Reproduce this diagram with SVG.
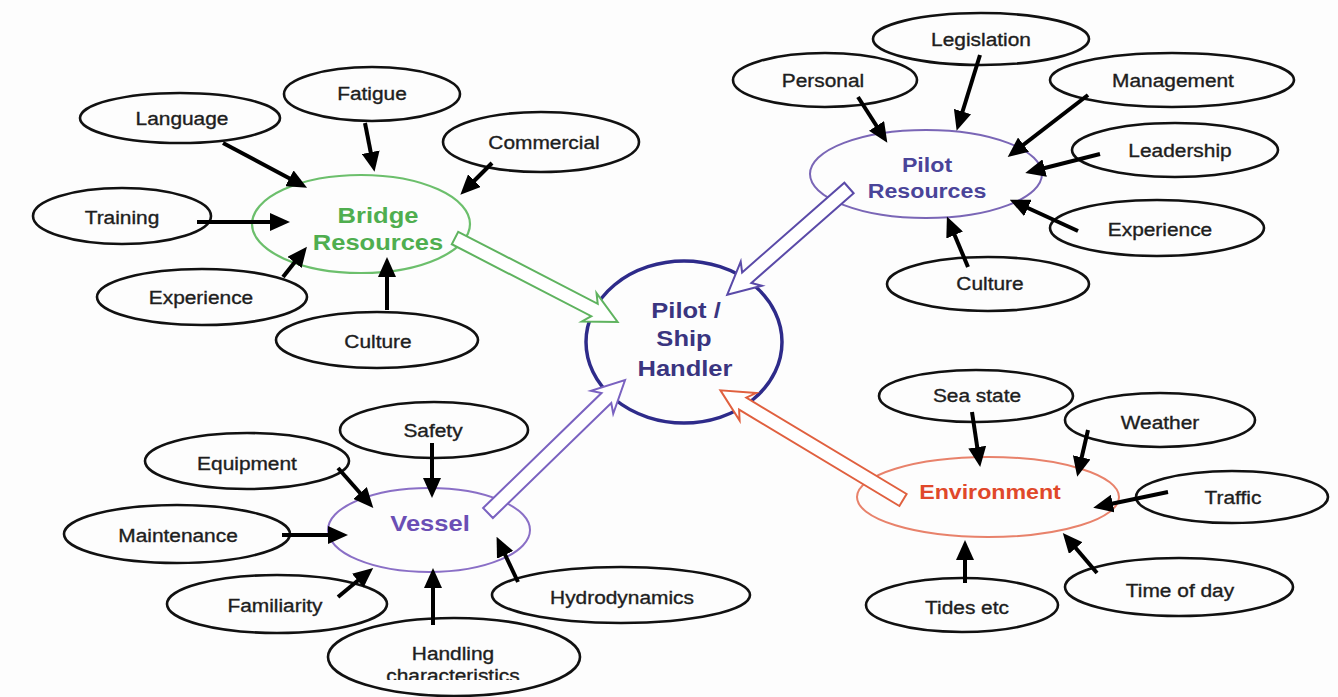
<svg xmlns="http://www.w3.org/2000/svg" width="1338" height="697" viewBox="0 0 1338 697">
<style>
.bg{fill:#fdfdfd}
.leaf{fill:none;stroke:#111;stroke-width:2.6}
.lbl{font-family:"Liberation Sans",Arial,sans-serif;font-size:18px;fill:#1e1e1e;stroke:#1e1e1e;stroke-width:0.35;text-anchor:middle}
.cat{font-family:"Liberation Sans",Arial,sans-serif;font-weight:bold;text-anchor:middle}
.link{stroke:#000;stroke-width:4;fill:none;marker-end:url(#ah)}
.hollow{fill:#fff;stroke-width:2;stroke-linejoin:miter}
</style>
<defs>
<marker id="ah" markerUnits="userSpaceOnUse" markerWidth="20" markerHeight="18" refX="12" refY="9" orient="auto">
<path d="M0,0 L20,9 L0,18 z" fill="#000"/>
</marker>
<clipPath id="cut"><rect x="300" y="600" width="320" height="80"/></clipPath>
</defs>
<rect class="bg" x="0" y="0" width="1338" height="697"/>

<!-- Bridge quadrant -->
<g id="bridge-resources">
<ellipse cx="361" cy="224" rx="109" ry="49" fill="none" stroke="#6cbf6c" stroke-width="2.2"/>
<text class="cat" font-size="22" fill="#4fae4f" transform="translate(378 223) scale(1.16 1)">Bridge</text>
<text class="cat" font-size="22" fill="#4fae4f" transform="translate(378 250) scale(1.16 1)">Resources</text>
</g>
<g id="language"><ellipse class="leaf" cx="180" cy="118" rx="100" ry="25"/><text class="lbl" transform="translate(182 124.5) scale(1.16 1)">Language</text></g>
<g id="fatigue"><ellipse class="leaf" cx="372" cy="94" rx="88" ry="27"/><text class="lbl" transform="translate(372 99.5) scale(1.16 1)">Fatigue</text></g>
<g id="commercial"><ellipse class="leaf" cx="541" cy="142" rx="98" ry="30"/><text class="lbl" transform="translate(544 148.5) scale(1.16 1)">Commercial</text></g>
<g id="training"><ellipse class="leaf" cx="122" cy="216" rx="89" ry="28"/><text class="lbl" transform="translate(122 223.5) scale(1.16 1)">Training</text></g>
<g id="experience-bridge"><ellipse class="leaf" cx="202" cy="297" rx="105" ry="28"/><text class="lbl" transform="translate(201 303.5) scale(1.16 1)">Experience</text></g>
<g id="culture-bridge"><ellipse class="leaf" cx="377" cy="340" rx="101" ry="28"/><text class="lbl" transform="translate(378 347.5) scale(1.16 1)">Culture</text></g>

<!-- Pilot quadrant -->
<g id="pilot-resources">
<ellipse cx="926" cy="174" rx="116" ry="44" fill="none" stroke="#7a66b6" stroke-width="2"/>
<text class="cat" font-size="20" fill="#4a4499" transform="translate(927 172) scale(1.16 1)">Pilot</text>
<text class="cat" font-size="20" fill="#4a4499" transform="translate(927 198) scale(1.16 1)">Resources</text>
</g>
<g id="personal"><ellipse class="leaf" cx="825" cy="80" rx="92" ry="27"/><text class="lbl" transform="translate(823 86.5) scale(1.16 1)">Personal</text></g>
<g id="legislation"><ellipse class="leaf" cx="981" cy="39" rx="108" ry="26"/><text class="lbl" transform="translate(981 45.5) scale(1.16 1)">Legislation</text></g>
<g id="management"><ellipse class="leaf" cx="1172" cy="80" rx="122" ry="27"/><text class="lbl" transform="translate(1173 86.5) scale(1.16 1)">Management</text></g>
<g id="leadership"><ellipse class="leaf" cx="1175" cy="150" rx="103" ry="27"/><text class="lbl" transform="translate(1180 156.5) scale(1.16 1)">Leadership</text></g>
<g id="experience-pilot"><ellipse class="leaf" cx="1157" cy="228" rx="107" ry="28"/><text class="lbl" transform="translate(1160 235.5) scale(1.16 1)">Experience</text></g>
<g id="culture-pilot"><ellipse class="leaf" cx="988" cy="284" rx="101" ry="27"/><text class="lbl" transform="translate(990 289.5) scale(1.16 1)">Culture</text></g>

<!-- Centre -->
<g id="pilot-ship-handler">
<ellipse cx="684" cy="342" rx="98" ry="81" fill="none" stroke="#2e2b8a" stroke-width="3.5"/>
<text class="cat" font-size="22" fill="#3a3580" transform="translate(686 318) scale(1.16 1)">Pilot /</text>
<text class="cat" font-size="22" fill="#3a3580" transform="translate(684 346) scale(1.16 1)">Ship</text>
<text class="cat" font-size="22" fill="#3a3580" transform="translate(685 376) scale(1.16 1)">Handler</text>
</g>

<!-- Vessel quadrant -->
<g id="vessel">
<ellipse cx="429" cy="530" rx="101" ry="42" fill="none" stroke="#8a6fc6" stroke-width="2"/>
<text class="cat" font-size="22" fill="#6b4fb5" transform="translate(430 531) scale(1.16 1)">Vessel</text>
</g>
<g id="safety"><ellipse class="leaf" cx="434" cy="430" rx="94" ry="28"/><text class="lbl" transform="translate(433 436.5) scale(1.16 1)">Safety</text></g>
<g id="equipment"><ellipse class="leaf" cx="247" cy="461" rx="102" ry="28"/><text class="lbl" transform="translate(247 469.5) scale(1.16 1)">Equipment</text></g>
<g id="maintenance"><ellipse class="leaf" cx="177" cy="534" rx="113" ry="29"/><text class="lbl" transform="translate(178 541.5) scale(1.16 1)">Maintenance</text></g>
<g id="familiarity"><ellipse class="leaf" cx="277" cy="604" rx="110" ry="29"/><text class="lbl" transform="translate(275 611.5) scale(1.16 1)">Familiarity</text></g>
<g id="hydrodynamics"><ellipse class="leaf" cx="621" cy="595" rx="129" ry="28"/><text class="lbl" transform="translate(622 603.5) scale(1.16 1)">Hydrodynamics</text></g>
<g id="handling-characteristics"><ellipse class="leaf" cx="454" cy="657" rx="126" ry="39"/><text class="lbl" transform="translate(453 659.5) scale(1.16 1)">Handling</text><g clip-path="url(#cut)"><text class="lbl" transform="translate(453 682) scale(1.16 1)">characteristics</text></g></g>

<!-- Environment quadrant -->
<g id="environment">
<ellipse cx="988" cy="497" rx="131" ry="40" fill="none" stroke="#e8826b" stroke-width="2"/>
<text class="cat" font-size="20" fill="#e0482a" transform="translate(990 499) scale(1.16 1)">Environment</text>
</g>
<g id="sea-state"><ellipse class="leaf" cx="976" cy="396" rx="97" ry="26"/><text class="lbl" transform="translate(977 401.5) scale(1.16 1)">Sea state</text></g>
<g id="weather"><ellipse class="leaf" cx="1160" cy="420" rx="95" ry="27"/><text class="lbl" transform="translate(1160 428.5) scale(1.16 1)">Weather</text></g>
<g id="traffic"><ellipse class="leaf" cx="1232" cy="497" rx="96" ry="26"/><text class="lbl" transform="translate(1233 503.5) scale(1.16 1)">Traffic</text></g>
<g id="time-of-day"><ellipse class="leaf" cx="1179" cy="587" rx="114" ry="29"/><text class="lbl" transform="translate(1180 596.5) scale(1.16 1)">Time of day</text></g>
<g id="tides-etc"><ellipse class="leaf" cx="962" cy="605" rx="96" ry="27"/><text class="lbl" transform="translate(967 613.5) scale(1.16 1)">Tides etc</text></g>

<!-- Connectors -->
<g id="connectors">
<line class="link" x1="223" y1="143" x2="300" y2="184"/>
<line class="link" x1="365" y1="123" x2="373" y2="164"/>
<line class="link" x1="492" y1="163" x2="466" y2="189"/>
<line class="link" x1="197" y1="222" x2="282" y2="222"/>
<line class="link" x1="283" y1="277" x2="302" y2="253"/>
<line class="link" x1="387" y1="310" x2="387" y2="265"/>

<line class="link" x1="858" y1="97" x2="883" y2="136"/>
<line class="link" x1="980" y1="55" x2="959" y2="123"/>
<line class="link" x1="1088" y1="95" x2="1014" y2="152"/>
<line class="link" x1="1100" y1="154" x2="1033" y2="171"/>
<line class="link" x1="1078" y1="231" x2="1017" y2="203"/>
<line class="link" x1="968" y1="267" x2="950" y2="224"/>

<line class="link" x1="432" y1="443" x2="432" y2="490"/>
<line class="link" x1="338" y1="468" x2="368" y2="502"/>
<line class="link" x1="282" y1="535" x2="340" y2="535"/>
<line class="link" x1="338" y1="597" x2="367" y2="573"/>
<line class="link" x1="433" y1="625" x2="433" y2="576"/>
<line class="link" x1="518" y1="582" x2="500" y2="544"/>

<line class="link" x1="972" y1="412" x2="979" y2="459"/>
<line class="link" x1="1088" y1="430" x2="1079" y2="469"/>
<line class="link" x1="1168" y1="492" x2="1101" y2="506"/>
<line class="link" x1="1097" y1="573" x2="1068" y2="539"/>
<line class="link" x1="965" y1="583" x2="965" y2="548"/>

<polygon class="hollow" stroke="#5fb35f" transform="translate(455 238) rotate(27.3)" points="0,-7 157,-7 151,-16 183,0 151,16 157,7 0,7"/>
<polygon class="hollow" stroke="#5a4aa8" transform="translate(849 188) rotate(138.75)" points="0,-7 136,-7 130,-16 162,0 130,16 136,7 0,7"/>
<polygon class="hollow" stroke="#7a62c0" transform="translate(488 513) rotate(-44.15)" points="0,-7 165,-7 159,-16 191,0 159,16 165,7 0,7"/>
<polygon class="hollow" stroke="#e0603f" transform="translate(903 500) rotate(-149)" points="0,-7 187,-7 181,-16 213,0 181,16 187,7 0,7"/>
</g>
</svg>
